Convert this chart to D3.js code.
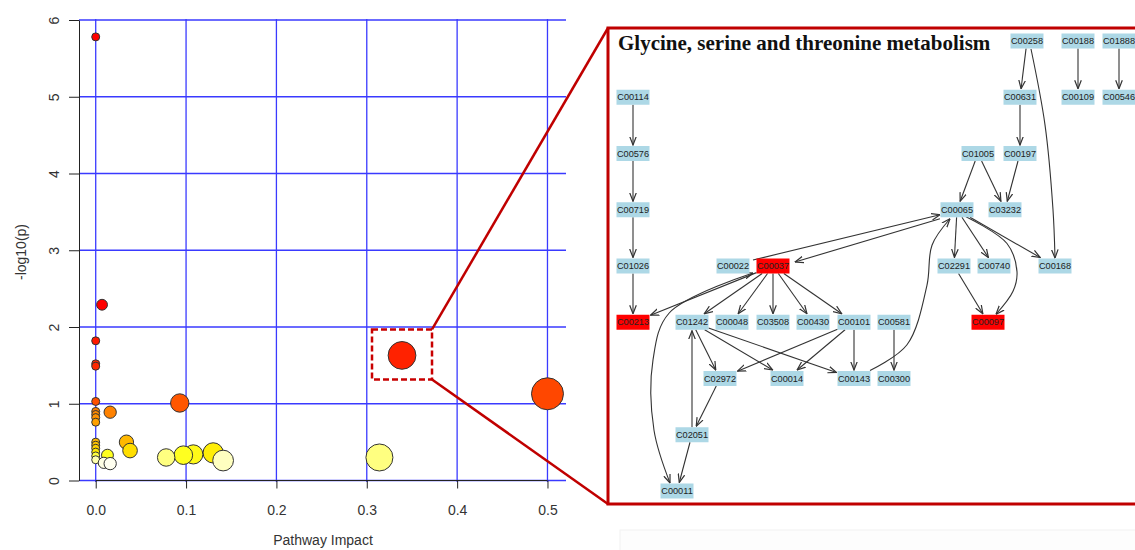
<!DOCTYPE html>
<html>
<head>
<meta charset="utf-8">
<script src="https://cdn.jsdelivr.net/npm/d3@7"></script>
<style>
  body { margin: 0; background: #fff; }
  svg { display: block; font-family: "Liberation Sans", Arial, sans-serif; }
</style>
</head>
<body>
<div id="chart"></div>
<script>
// ---- pathway overview (impact vs -log10 p) ----
const impact = [0, 0.007, 0, 0, 0, 0, 0.016, 0.093, 0, 0, 0, 0, 0, 0, 0, 0, 0, 0,
                0.013, 0.009, 0.016, 0.034, 0.038, 0.078, 0.097, 0.108, 0.130, 0.141,
                0.339, 0.500, 0.314];
const logP   = [5.78, 2.29, 1.82, 1.52, 1.49, 1.03, 0.89, 1.01, 0.90, 0.86, 0.82, 0.76, 0.50, 0.46, 0.42, 0.37, 0.32, 0.27,
                0.33, 0.23, 0.22, 0.50, 0.39, 0.30, 0.33, 0.34, 0.36, 0.26,
                1.63, 1.13, 0.30];
const selected = 28; // glycine, serine and threonine metabolism

const xTicks = [0, 0.1, 0.2, 0.3, 0.4, 0.5];
const yTicks = [0, 1, 2, 3, 4, 5, 6];
const xTitle = "Pathway Impact";
const yTitle = "-log10(p)";

// ---- pathway graph ----
const pathwayTitle = "Glycine, serine and threonine metabolism";
const nodeIds  = ["C00258","C00188","C01888",
                  "C00114","C00631","C00109","C00546",
                  "C00576","C01005","C00197",
                  "C00719","C00065","C03232",
                  "C01026","C00022","C00037","C02291","C00740","C00168",
                  "C00213","C01242","C00048","C03508","C00430","C00101","C00581","C00097",
                  "C02972","C00014","C00143","C00300",
                  "C02051",
                  "C00011"];
const nodeRank = [0,0,0, 1,1,1,1, 2,2,2, 3,3,3, 4,4,4,4,4,4, 5,5,5,5,5,5,5,5, 6,6,6,6, 7, 8];
const nodePos  = [394,445,486, 0,387,445,486, 0,345,387, 0,324,372,
                  0,100,140,321,361,422, 0,59,99,140,180,221,261,355,
                  87,154,221,261, 59, 44];
const hitNodes = ["C00037","C00213","C00097"];
const edges = ["C00114>C00576","C00576>C00719","C00719>C01026","C01026>C00213",
               "C00258>C00631","C00258>C00168","C00188>C00109","C01888>C00546",
               "C00631>C00197","C01005>C00065","C01005>C03232","C00197>C03232",
               "C00065>C00037","C00037>C00065","C00065>C02291","C00065>C00740",
               "C00065>C00168","C00065>C00097","C02291>C00097",
               "C00037>C00213","C00037>C00011","C00037>C01242","C00037>C00048",
               "C00037>C03508","C00037>C00430","C00037>C00101",
               "C01242>C02972","C01242>C00014","C01242>C00143",
               "C00101>C02972","C00101>C00014","C00101>C00143",
               "C00581>C00300","C00143>C00065","C02972>C02051",
               "C02051>C01242","C02051>C00011"];

const W = 1135, H = 550;
const svg = d3.select("#chart").append("svg").attr("width", W).attr("height", H);

// ================= scatter =================
const x = d3.scaleLinear().domain([-0.0185, 0.5205]).range([79, 566]);
const y = d3.scaleLinear().domain([0, 6]).range([480.5, 20]);
const r = d3.scalePow().exponent(0.5).domain([0, 0.5]).range([4, 16]);
const color = d3.scaleLinear()
  .domain([0.22, 0.26, 0.30, 0.33, 0.37, 0.42, 0.5, 0.76, 0.9, 1.03, 1.5, 2.3])
  .range(["#fffff0", "#ffffc0", "#ffff80", "#ffff20", "#ffe800", "#ffd000",
          "#ffb800", "#ffa000", "#ff8000", "#ff5000", "#ff2800", "#ff0000"])
  .clamp(true);

const grid = svg.append("g").attr("stroke", "#3a3aff").attr("stroke-width", 1.3);
grid.selectAll(".gx").data(xTicks).enter().append("line")
  .attr("x1", d => x(d)).attr("x2", d => x(d)).attr("y1", 19).attr("y2", 482);
grid.selectAll(".gy").data(yTicks).enter().append("line")
  .attr("x1", 79).attr("x2", 566).attr("y1", d => y(d)).attr("y2", d => y(d));

// y axis
const yAxis = svg.append("g").attr("transform", "translate(79,0)")
  .call(d3.axisLeft(y).tickValues(yTicks).tickSize(10).tickSizeOuter(0).tickFormat(d3.format("d")));
yAxis.select(".domain").attr("stroke", "#222");
yAxis.selectAll(".tick line").attr("stroke", "#222");
yAxis.selectAll(".tick text")
  .attr("x", 0).attr("y", -25).attr("dy", "0.35em")
  .attr("transform", "rotate(-90)").attr("text-anchor", "middle")
  .style("font-size", "14px").attr("fill", "#333");

// x axis
const xAxis = svg.append("g").attr("transform", "translate(0,480.5)")
  .call(d3.axisBottom(x).tickValues(xTicks).tickSize(8).tickFormat(d3.format(".1f")));
xAxis.select(".domain").remove();
xAxis.append("line").attr("x1", x(0)).attr("x2", x(0.5)).attr("stroke", "#222");
xAxis.selectAll(".tick line").attr("stroke", "#222");
xAxis.selectAll(".tick text").attr("y", 30).attr("dy", "0.35em")
  .style("font-size", "14px").attr("fill", "#333");

svg.append("text").attr("x", 323).attr("y", 545).attr("text-anchor", "middle")
  .style("font-size", "14px").attr("fill", "#333").text(xTitle);
svg.append("text").attr("transform", "translate(21,252) rotate(-90)").attr("dy", "0.35em")
  .attr("text-anchor", "middle").style("font-size", "14px").attr("fill", "#333").text(yTitle);

// points: larger p drawn first so the pale ones sit on top
const pts = impact.map((v, i) => ({ imp: v, lp: logP[i] })).sort((a, b) => b.lp - a.lp);
svg.append("g").selectAll("circle").data(pts).enter().append("circle")
  .attr("cx", d => x(d.imp)).attr("cy", d => y(d.lp)).attr("r", d => r(d.imp))
  .attr("fill", d => color(d.lp)).attr("stroke", "#333").attr("stroke-width", 1);

// zoom box + connectors
const sx = x(impact[selected]), sy = y(logP[selected]);
const zb = { x0: sx - 30, y0: sy - 26, x1: sx + 30, y1: sy + 24 };
const inset = { x: 608, y: 28, w: 560, h: 476 };
svg.append("rect").attr("x", zb.x0).attr("y", zb.y0)
  .attr("width", zb.x1 - zb.x0).attr("height", zb.y1 - zb.y0)
  .attr("fill", "none").attr("stroke", "#c80000").attr("stroke-width", 2.5)
  .attr("stroke-dasharray", "6,3");
svg.append("line").attr("x1", zb.x1).attr("y1", zb.y0).attr("x2", inset.x).attr("y2", inset.y)
  .attr("stroke", "#c00000").attr("stroke-width", 2.5);
svg.append("line").attr("x1", zb.x1).attr("y1", zb.y1).attr("x2", inset.x).attr("y2", inset.y + inset.h)
  .attr("stroke", "#c00000").attr("stroke-width", 2.5);

// faint panel below inset
svg.append("rect").attr("x", 620).attr("y", 530).attr("width", 520).attr("height", 30)
  .attr("fill", "#fdfdfd").attr("stroke", "#f2f2f2");

svg.append("rect").attr("x", inset.x).attr("y", inset.y).attr("width", inset.w).attr("height", inset.h)
  .attr("fill", "#fff").attr("stroke", "#c00000").attr("stroke-width", 3);

// ================= pathway graph =================
const gx = d3.scaleLinear().domain([0, 486]).range([633, 1119]);
const gy = d3.scaleLinear().domain([0, 8]).range([41, 491]);
const hw = 16.5, hh = 7.5;

const nodes = {};
nodeIds.forEach((id, i) => { nodes[id] = { id, cx: gx(nodePos[i]), cy: gy(nodeRank[i]), hit: hitNodes.includes(id) }; });

// hand routing for the long / doubled edges (graphviz-like)
const routes = {
  "C00258>C00168": { s: [4, 8], via: [[412, 1.49], [420, 3.0]], t: [0, -8] },
  "C00065>C00097": { s: [9, 7], via: [[374, 3.6], [384, 4.1], [380, 4.45]], t: [8, -8] },
  "C00143>C00065": { s: [16, -8], via: [[274, 5.4], [294, 4.34], [299, 3.63]], t: [-7, 9] },
  "C00037>C00011": { s: [-20, 7], via: [[36, 4.84], [20, 5.67], [21, 6.92]], t: [-7, -8], both: true },
  "C00037>C00065": { s: [-20, -6], t: [-17, 5] },
  "C00065>C00037": { s: [-17, 9], t: [22, -4] }
};

function boxPoint(c, toward, pad) {
  const dx = toward[0] - c[0], dy = toward[1] - c[1];
  const tx = dx ? (hw + pad) / Math.abs(dx) : Infinity;
  const ty = dy ? (hh + pad) / Math.abs(dy) : Infinity;
  const t = Math.min(tx, ty);
  return [c[0] + dx * t, c[1] + dy * t];
}

const defs = svg.append("defs");
defs.append("marker").attr("id", "arr").attr("viewBox", "0 -4 9 8")
  .attr("refX", 8.5).attr("refY", 0).attr("markerWidth", 9).attr("markerHeight", 8)
  .attr("markerUnits", "userSpaceOnUse").attr("orient", "auto-start-reverse")
  .append("path").attr("d", "M0,-3.3L8.5,0L0,3.3").attr("fill", "none")
  .attr("stroke", "#333").attr("stroke-width", 1.2);

const line = d3.line().curve(d3.curveCatmullRom.alpha(0.5));
const eg = svg.append("g");
edges.forEach(e => {
  const [a, b] = e.split(">");
  const S = nodes[a], T = nodes[b];
  const rt = routes[e] || {};
  const via = (rt.via || []).map(p => [gx(p[0]), gy(p[1])]);
  const first = via.length ? via[0] : [T.cx, T.cy];
  const last = via.length ? via[via.length - 1] : [S.cx, S.cy];
  const p0 = rt.s ? [S.cx + rt.s[0], S.cy + rt.s[1]] : boxPoint([S.cx, S.cy], first, 0);
  const p1 = rt.t ? [T.cx + rt.t[0], T.cy + rt.t[1]] : boxPoint([T.cx, T.cy], last, 1);
  const path = eg.append("path").attr("d", line([p0, ...via, p1]))
    .attr("fill", "none").attr("stroke", "#333").attr("stroke-width", 1.1)
    .attr("marker-end", "url(#arr)");
  if (rt.both) path.attr("marker-start", "url(#arr)");
});

const ng = svg.append("g").selectAll("g").data(Object.values(nodes)).enter().append("g")
  .attr("transform", d => `translate(${d.cx},${d.cy})`);
ng.append("rect").attr("x", -hw).attr("y", -hh).attr("width", hw * 2).attr("height", hh * 2)
  .attr("fill", d => d.hit ? "#ff0000" : "#add8e6");
ng.append("text").attr("text-anchor", "middle").attr("dy", "0.35em")
  .style("font-size", "9.2px").attr("fill", "#222").text(d => d.id);

svg.append("text").attr("x", 618).attr("y", 50)
  .style("font-family", "'Liberation Serif', 'Times New Roman', serif")
  .style("font-size", "21px").style("font-weight", "bold").attr("fill", "#111")
  .text(pathwayTitle);
</script>
</body>
</html>
